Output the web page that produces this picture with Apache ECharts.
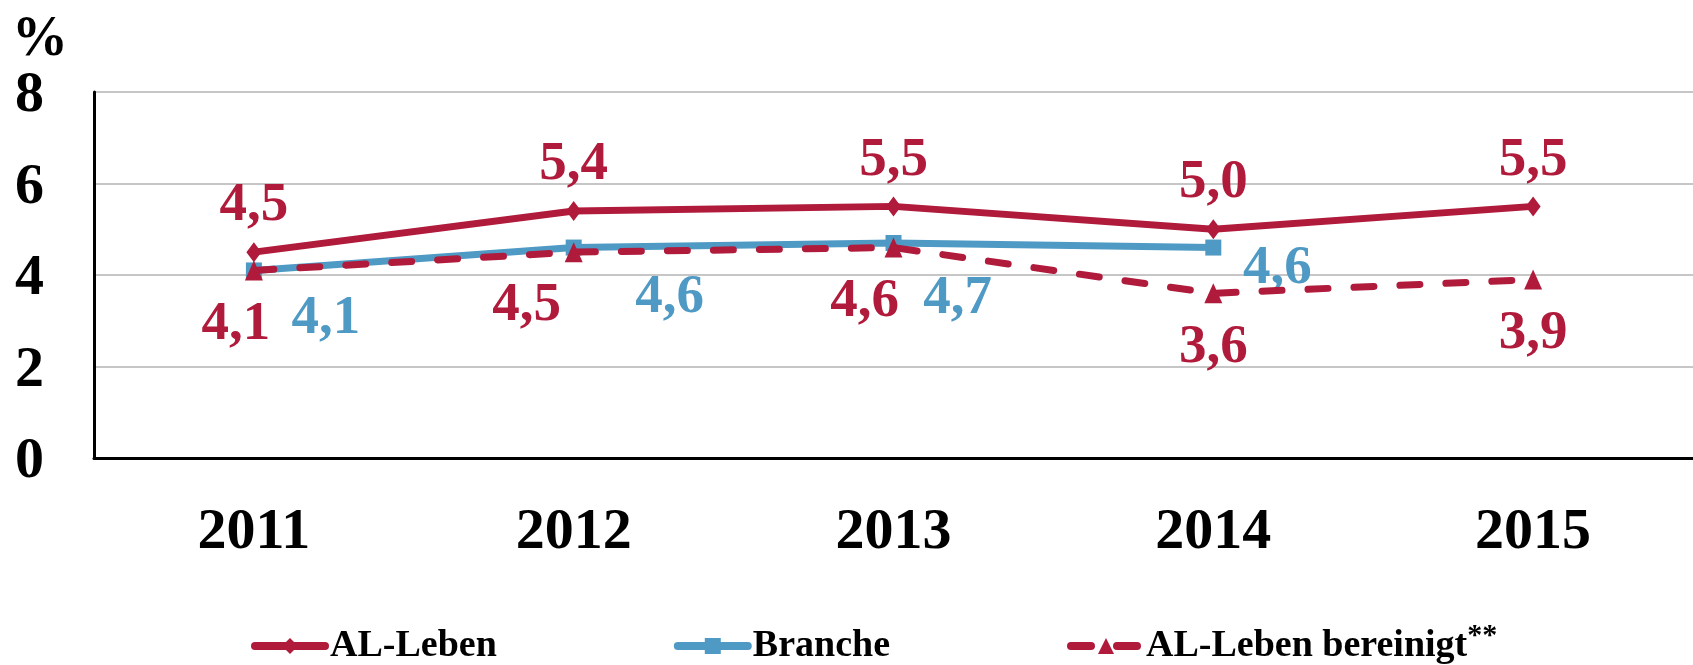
<!DOCTYPE html>
<html>
<head>
<meta charset="utf-8">
<script src="https://cdn.jsdelivr.net/npm/echarts@6/dist/echarts.min.js"></script>
<style>
  html, body { margin: 0; padding: 0; background: #fff; }
  #chart { width: 1693px; height: 665px; }
</style>
</head>
<body>
<div id="chart"></div>
<script>
const years = ["2011", "2012", "2013", "2014", "2015"];
const alLeben = [4.5, 5.4, 5.5, 5.0, 5.5];
const branche = [4.1, 4.6, 4.7, 4.6, null];
const alLebenBereinigt = [4.1, 4.5, 4.6, 3.6, 3.9];
const yTicks = [0, 2, 4, 6, 8];

const RED = "#b01a3b";
const BLUE = "#4f9ac4";
const FONT = "'Liberation Serif', 'Times New Roman', serif";

// label placement around the markers, as in the original
const brancheLabelShift = [[72, 48], [96, 50], [64, 56], [64, 21], [0, 0]];
const bereinigtLabelShift = [[-18, 54], [-47, 54], [-29, 54], [0, 54], [0, 54]];

function fmt(v) {
  return v.toFixed(1).replace(".", ",");
}

function withLabels(values, shifts) {
  return values.map((v, i) => {
    if (v == null) return "-";
    return { value: v, label: { offset: shifts[i] } };
  });
}

const labelBase = {
  show: true,
  position: "inside",
  fontFamily: FONT,
  fontWeight: "bold",
  fontSize: 55,
  formatter: p => fmt(p.value)
};

const chart = echarts.init(document.getElementById("chart"));

chart.setOption({
  animation: false,
  title: {
    text: "%",
    left: 7,
    top: 8,
    textStyle: { fontFamily: FONT, fontWeight: "bold", fontSize: 56, color: "#000" }
  },
  grid: { left: 94, right: 0, top: 92, bottom: 207, containLabel: false },
  legend: {
    top: 616,
    left: 246,
    itemWidth: 70,
    itemHeight: 20,
    itemGap: 177,
    lineStyle: { width: 8, cap: "round" },
    textStyle: {
      fontFamily: FONT,
      fontWeight: "bold",
      fontSize: 38,
      color: "#000",
      rich: {
        n: { fontFamily: FONT, fontWeight: "bold", fontSize: 38, color: "#000" },
        s: { fontFamily: FONT, fontWeight: "bold", fontSize: 30, color: "#000", verticalAlign: "top", padding: [0, 0, 20, 0] }
      }
    },
    formatter: name => name === "AL-Leben bereinigt" ? "{n|" + name + "}{s|**}" : name
  },
  xAxis: {
    type: "category",
    data: years,
    boundaryGap: true,
    axisTick: { show: false },
    axisLine: { show: true, lineStyle: { color: "#000", width: 3 } },
    axisLabel: { fontFamily: FONT, fontWeight: "bold", fontSize: 58, color: "#000", margin: 46 }
  },
  yAxis: {
    type: "value",
    min: yTicks[0],
    max: yTicks[yTicks.length - 1],
    interval: 2,
    axisTick: { show: false },
    axisLine: { show: true, lineStyle: { color: "#000", width: 3 } },
    splitLine: { lineStyle: { color: "#c6c6c6", width: 2 } },
    axisLabel: {
      margin: 50,
      formatter: v => "{t|" + v + "}",
      rich: {
        t: { fontFamily: FONT, fontWeight: "bold", fontSize: 58, color: "#000", padding: [9, 0, 0, 0] }
      }
    }
  },
  series: [
    {
      name: "AL-Leben",
      type: "line",
      data: alLeben,
      symbol: "diamond",
      symbolSize: [15, 20],
      itemStyle: { color: RED },
      lineStyle: { color: RED, width: 7 },
      label: Object.assign({}, labelBase, { color: RED, offset: [0, -46] }),
      z: 3
    },
    {
      name: "Branche",
      type: "line",
      data: withLabels(branche, brancheLabelShift),
      symbol: "rect",
      symbolSize: 16,
      itemStyle: { color: BLUE },
      lineStyle: { color: BLUE, width: 7 },
      label: Object.assign({}, labelBase, { color: BLUE }),
      z: 4
    },
    {
      name: "AL-Leben bereinigt",
      type: "line",
      data: withLabels(alLebenBereinigt, bereinigtLabelShift),
      symbol: "triangle",
      symbolSize: [18, 20],
      itemStyle: { color: RED },
      lineStyle: { color: RED, width: 7, type: [20, 26], cap: "round" },
      label: Object.assign({}, labelBase, { color: RED }),
      z: 5
    }
  ]
});

window.addEventListener("resize", () => chart.resize());
</script>
</body>
</html>
